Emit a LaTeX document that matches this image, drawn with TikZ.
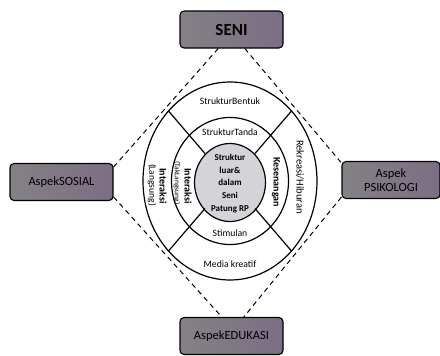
\documentclass[tikz,border=0pt]{standalone}
\usepackage{fontspec}
\setmainfont{Carlito}
\definecolor{boxL}{RGB}{132,129,133}
\definecolor{boxR}{RGB}{124,110,132}
\definecolor{core}{RGB}{212,211,216}
\begin{document}
\begin{tikzpicture}[x=1pt,y=-1pt,
  aspect/.style={draw=black,line width=1.1pt,rounded corners=4pt,left color=boxL,right color=boxR,
    minimum width=103pt,minimum height=37pt,align=center,inner sep=1pt},
  ring/.style={line width=1.2pt},
  link/.style={dashed,line width=1pt,dash pattern=on 5pt off 4pt},
  lbl/.style={font=\fontsize{9.7}{11}\selectfont,inner sep=0pt},
  vlbl/.style={font=\fontsize{9.7}{11}\selectfont,inner sep=0pt,rotate=-90}]
\useasboundingbox (0,0) rectangle (440,356);
\coordinate (c) at (230,181);
% aspect boxes
\node[aspect] (seni) at (231.5,29.5) {\fontsize{17}{18}\selectfont\bfseries SENI};
\node[aspect] (sosial) at (61.5,182) {\fontsize{12.5}{13}\selectfont AspekSOSIAL};
\node[aspect,minimum width=98pt,font=\fontsize{12.5}{14}\selectfont] (psi) at (391,180) {Aspek\\PSIKOLOGI};
\node[aspect] (edu) at (231.5,336) {\fontsize{12.5}{13}\selectfont AspekEDUKASI};
% dashed diamond
\draw[link] (seni.235) -- (sosial.16);
\draw[link] (seni.305) -- (psi.161);
\draw[link] (sosial.-16) -- (edu.117);
\draw[link] (psi.199) -- (edu.57);
% rings
\draw[ring,fill=white] (c) ellipse [x radius=87pt,y radius=99pt];
\draw[ring] (c) ellipse [x radius=58.5pt,y radius=63.5pt];
\draw[ring,fill=core] (230,182.5) ellipse [x radius=35.5pt,y radius=39pt];
% spokes
\draw[ring] (230-25.1,181-27.6) -- (230-61.5,181-70);
\draw[ring] (230+25.1,181-27.6) -- (230+61.5,181-70);
\draw[ring] (230+25.1,181+27.6) -- (230+61.5,181+70);
\draw[ring] (230-25.1,181+27.6) -- (230-61.5,181+70);
% labels
\node[lbl] (sb) at (230,101) {StrukturBentuk};
\node[lbl] (st) at (230,132) {StrukturTanda};
\node[lbl] (stim) at (230,233) {Stimulan};
\node[lbl] (mk) at (230,264) {Media kreatif};
\node[vlbl,font=\fontsize{10}{11}\selectfont\bfseries] (kes) at (276,182) {Kesenangan};
\node[vlbl,font=\fontsize{10.5}{11}\selectfont] (rek) at (300,177) {Rekreasi/Hiburan};
\node[vlbl,font=\fontsize{10}{11}\selectfont\bfseries] (int1) at (188,186) {Interaksi};
\node[vlbl,font=\fontsize{7.5}{8}\selectfont] (tl) at (177,183) {(TakLangsung)};
\node[vlbl,font=\fontsize{10}{11}\selectfont\bfseries] (int2) at (163,186) {Interaksi};
\node[vlbl,font=\fontsize{9.5}{11}\selectfont] (ls) at (152,185) {(Langsung)};
\node[lbl,align=center,font=\fontsize{9}{12.8}\selectfont\bfseries] (core) at (230,183.5)
  {Struktur\\luar\&\\dalam\\Seni\\Patung RP};
\end{tikzpicture}
\end{document}
